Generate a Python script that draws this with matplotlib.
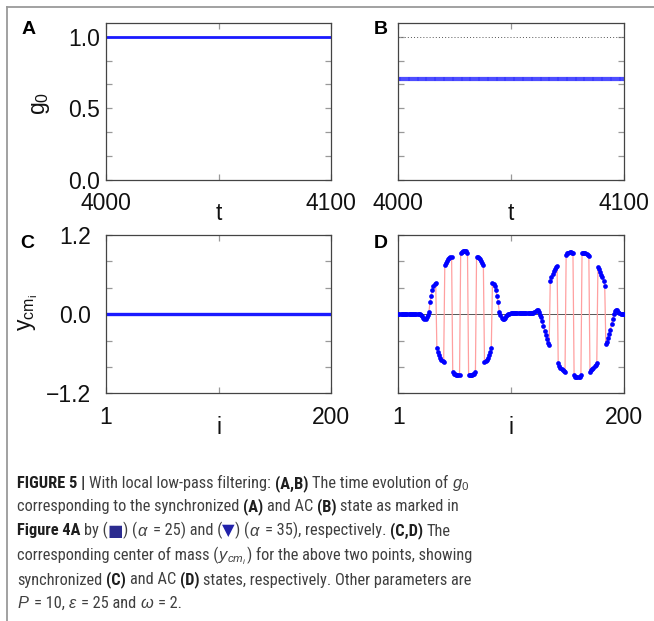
import numpy as np
import matplotlib
matplotlib.use('Agg')
import matplotlib.pyplot as plt
from matplotlib.lines import Line2D
from matplotlib.ticker import FixedLocator, NullFormatter
from matplotlib import font_manager

# ---------------- data ----------------
t_ticks = [4000, 4100]
t_mid = [4050]
t_step = 0.5
g0_sync = 1.0          # panel A level
g0_ac = 0.705          # panel B level
g0_ref = 1.0           # dotted reference in panel B
osc_ticks = [1, 200]
osc_mid = [100.5]
ycm_sync_level = 0.0
ycm_ac = [
    0, 0, 0, 0, 0, 0, 0, 0, 0, 0,
    0, 0, 0, 0, 0, 0, 0, 0, -0.002, -0.005,
    -0.01, -0.03, -0.06, -0.08, -0.08, -0.05, -0.01, 0.035, 0.18, 0.28,
    0.36, 0.42, 0.45, 0.47, -0.51, -0.57, -0.62, -0.66, -0.69, -0.71,
    -0.73, 0.74, 0.77, 0.80, 0.83, 0.85, 0.86, 0.87, -0.88, -0.90,
    -0.91, -0.92, -0.93, -0.93, -0.93, 0.92, 0.94, 0.95, 0.96, 0.96,
    0.95, 0.93, -0.93, -0.93, -0.93, -0.92, -0.91, -0.90, -0.88, 0.87,
    0.86, 0.85, 0.83, 0.80, 0.77, 0.74, -0.73, -0.71, -0.69, -0.66,
    -0.62, -0.57, -0.51, 0.47, 0.45, 0.42, 0.36, 0.28, 0.18, 0.04,
    -0.02, -0.06, -0.08, -0.075, -0.06, -0.03, -0.01, 0.0, 0.005, 0.01,
    0.01, 0.01, 0.01, 0.01, 0.01, 0.01, 0.01, 0.01, 0.01, 0.01,
    0.01, 0.01, 0.015, 0.015, 0.015, 0.015, 0.02, 0.02, 0.02, 0.025,
    0.03, 0.045, 0.065, 0.07, 0.04, -0.01, -0.05, -0.10, -0.18, -0.26,
    -0.32, -0.38, -0.43, -0.47, 0.50, 0.56, 0.61, 0.65, 0.68, 0.71,
    0.73, -0.74, -0.78, -0.81, -0.83, -0.85, -0.86, -0.87, 0.90, 0.92,
    0.93, 0.94, 0.94, 0.93, 0.92, -0.93, -0.95, -0.96, -0.96, -0.96,
    -0.95, -0.93, 0.92, 0.93, 0.93, 0.92, 0.91, 0.89, 0.88, -0.87,
    -0.85, -0.83, -0.81, -0.79, -0.77, -0.74, 0.71, 0.68, 0.64, 0.60,
    0.56, 0.50, 0.43, -0.46, -0.42, -0.36, -0.30, -0.24, -0.15, -0.07,
    0.0, 0.05, 0.07, 0.06, 0.03, 0.01, 0.0, 0.0, 0.0, 0.0,
]
ycm_ticks_major = [-1.2, 0.0, 1.2]
ycm_ticks_minor = [-0.8, -0.4, 0.4, 0.8]
g0_ticks_major = [0.0, 0.5, 1.0]
g0_ticks_minor = [1/6, 2/6, 4/6, 5/6]

# ---------------- fonts ----------------
plt.rcParams['font.family'] = ['Liberation Sans', 'DejaVu Sans']
plt.rcParams['mathtext.fontset'] = 'custom'
plt.rcParams['mathtext.rm'] = 'Liberation Sans'
plt.rcParams['mathtext.it'] = 'Liberation Sans:italic'
plt.rcParams['mathtext.bf'] = 'Liberation Sans:bold'

installed = {f.name for f in font_manager.fontManager.ttflist}
cap_font = 'Liberation Sans'
for cand in ['Liberation Sans Narrow', 'Roboto Condensed', 'Open Sans Condensed']:
    if cand in installed:
        cap_font = cand
        break

W, H = 654, 621
fig = plt.figure(figsize=(W / 100, H / 100), dpi=100)

TFS = 16.5  # tick / axis label font size


def rect(l, t, r, b):
    return [l / W, 1 - b / H, (r - l) / W, (b - t) / H]


def fx(x):
    return x / W


def fy(y):
    return 1 - y / H


def style(ax, ypad, xpad):
    for s in ax.spines.values():
        s.set_color('#444444')
        s.set_linewidth(0.9)
    ax.tick_params(which='both', direction='in', top=True, right=True,
                   color='#999999', length=4, width=0.9, labelsize=TFS,
                   labelcolor='#111111')
    ax.tick_params(axis='y', pad=ypad)
    ax.tick_params(axis='x', pad=xpad)


# frame lines
fig.add_artist(Line2D([fx(7), fx(7)], [fy(7), fy(621)], color='#9a9a9a', lw=1.3))
fig.add_artist(Line2D([fx(7), fx(654)], [fy(7), fy(7)], color='#9a9a9a', lw=1.3))

t = np.arange(t_ticks[0], t_ticks[1] + t_step / 2, t_step)

# ---- Panel A ----
axA = fig.add_axes(rect(106, 23.3, 331, 180))
axA.plot(t, np.full_like(t, g0_sync), color='#1a1aff', lw=2.0)
axA.set_xlim(t_ticks[0], t_ticks[1])
axA.set_ylim(0, 1.093)
axA.xaxis.set_major_locator(FixedLocator(t_ticks))
axA.xaxis.set_minor_locator(FixedLocator(t_mid))
axA.yaxis.set_major_locator(FixedLocator(g0_ticks_major))
axA.yaxis.set_minor_locator(FixedLocator(g0_ticks_minor))
axA.set_yticklabels(['0.0', '0.5', '1.0'])
axA.set_xticklabels([str(v) for v in t_ticks])
style(axA, 4.0, 8.8)

# ---- Panel B ----
axB = fig.add_axes(rect(398.3, 23.3, 624, 180))
axB.plot(t, np.full_like(t, g0_ref), color='#555555', lw=0.7, ls=(0, (1, 2.2)))
axB.plot(t, np.full_like(t, g0_ac), color='#2a2aff', lw=3.0)
axB.plot(t, np.full_like(t, g0_ac), ls='none', marker='|', ms=2.6, mew=0.35,
         color='#8080ff')
axB.set_xlim(t_ticks[0], t_ticks[1])
axB.set_ylim(0, 1.093)
axB.xaxis.set_major_locator(FixedLocator(t_ticks))
axB.xaxis.set_minor_locator(FixedLocator(t_mid))
axB.yaxis.set_major_locator(FixedLocator(g0_ticks_major))
axB.yaxis.set_minor_locator(FixedLocator(g0_ticks_minor))
axB.yaxis.set_major_formatter(NullFormatter())
axB.set_xticklabels([str(v) for v in t_ticks])
style(axB, 4.0, 8.8)

osc = np.arange(1, len(ycm_ac) + 1)

# ---- Panel C ----
axC = fig.add_axes(rect(106, 235, 331, 393.3))
axC.plot(osc, np.full(len(osc), ycm_sync_level), color='#1a1aff', lw=2.4)
axC.set_xlim(osc_ticks[0], osc_ticks[1])
axC.set_ylim(-1.2, 1.2)
axC.xaxis.set_major_locator(FixedLocator(osc_ticks))
axC.xaxis.set_minor_locator(FixedLocator(osc_mid))
axC.yaxis.set_major_locator(FixedLocator(ycm_ticks_major))
axC.yaxis.set_minor_locator(FixedLocator(ycm_ticks_minor))
axC.set_yticklabels(['\u22121.2', '0.0', '1.2'])
axC.set_xticklabels([str(v) for v in osc_ticks])
style(axC, 10.5, 9.5)

# ---- Panel D ----
axD = fig.add_axes(rect(398.3, 235, 624, 393.3))
axD.axhline(0, color='#555555', lw=0.7, zorder=1)
axD.plot(osc, ycm_ac, color='#ffa0a0', lw=0.9, zorder=2)
axD.plot(osc, ycm_ac, ls='none', marker='o', ms=3.4, mew=0, color='#0000ff', zorder=3)
axD.set_xlim(osc_ticks[0], osc_ticks[1])
axD.set_ylim(-1.2, 1.2)
axD.xaxis.set_major_locator(FixedLocator(osc_ticks))
axD.xaxis.set_minor_locator(FixedLocator(osc_mid))
axD.yaxis.set_major_locator(FixedLocator(ycm_ticks_major + ycm_ticks_minor))
axD.yaxis.set_major_formatter(NullFormatter())
axD.set_xticklabels([str(v) for v in osc_ticks])
style(axD, 10.5, 9.5)

# axis labels
fig.text(fx(218.5), fy(213), 't', fontsize=TFS, ha='center', va='center', color='#111111')
fig.text(fx(511.2), fy(213), 't', fontsize=TFS, ha='center', va='center', color='#111111')
fig.text(fx(218.5), fy(428), 'i', fontsize=TFS, ha='center', va='center', color='#111111')
fig.text(fx(511.2), fy(428), 'i', fontsize=TFS, ha='center', va='center', color='#111111')
fig.text(fx(41), fy(103), r'g$_0$', fontsize=TFS, rotation=90, ha='center', va='center', color='#111111')
fig.text(fx(28), fy(313), r'$\mathrm{y}_{\mathrm{cm}_{\mathrm{i}}}$', fontsize=TFS, rotation=90,
         ha='center', va='center', color='#111111')

# panel letters
for lab, x, y in [('A', 29, 30), ('B', 381, 30), ('C', 27, 243), ('D', 381, 243)]:
    fig.text(fx(x), fy(y), lab, fontsize=14, fontweight='bold', ha='center', va='center',
             color='#000000')

# ---------------- caption ----------------
renderer = fig.canvas.get_renderer()
NORM = '#404040'
BOLD = '#1e1e1e'
caption = [
    [('FIGURE 5 | ', 'b'), ('With local low-pass filtering: ', 'n'), ('(A,B)', 'b'),
     (' The time evolution of ', 'n'), (r'$g_0$', 'n')],
    [('corresponding to the synchronized ', 'n'), ('(A)', 'b'), (' and AC ', 'n'), ('(B)', 'b'),
     (' state as marked in', 'n')],
    [('Figure 4A', 'b'), (' by (', 'n'), ('\u25A0', '#2b2b8f'), (') (', 'n'), (r'$\alpha$', 'n'),
     (' = 25) and (', 'n'), ('\u25BC', '#2222aa'), (') (', 'n'), (r'$\alpha$', 'n'),
     (' = 35), respectively. ', 'n'), ('(C,D)', 'b'), (' The', 'n')],
    [('corresponding center of mass (', 'n'), (r'$y_{cm_i}$', 'n'),
     (') for the above two points, showing', 'n')],
    [('synchronized ', 'n'), ('(C)', 'b'), (' and AC ', 'n'), ('(D)', 'b'),
     (' states, respectively. Other parameters are', 'n')],
    [(r'$P$', 'n'), (' = 10, ', 'n'), (r'$\varepsilon$', 'n'), (' = 25 and ', 'n'),
     (r'$\omega$', 'n'), (' = 2.', 'n')],
]


def measure(s, fs, weight='normal'):
    tt = fig.text(0, 0, s, fontsize=fs, fontweight=weight, family=[cap_font, 'DejaVu Sans'])
    w = tt.get_window_extent(renderer).width
    tt.remove()
    return w


def draw_line(y_base, segs, fs, draw=True):
    x = 17.0
    sp = measure('x x', fs) - measure('xx', fs)
    for txt, kind in segs:
        lead = len(txt) - len(txt.lstrip(' '))
        trail = len(txt) - len(txt.rstrip(' '))
        core = txt.strip(' ')
        x += lead * sp
        if core:
            weight = 'bold' if kind == 'b' else 'normal'
            if kind == 'b':
                col = BOLD
            elif kind == 'n':
                col = NORM
            else:
                col = kind
            tt = fig.text(fx(x), fy(y_base), core, fontsize=fs, fontweight=weight,
                          color=col, ha='left', va='baseline',
                          family=[cap_font, 'DejaVu Sans'])
            bb = tt.get_window_extent(renderer)
            x = bb.x1
            if not draw:
                tt.remove()
        x += trail * sp
    return x


# fit font size so that first line spans to ~470 px
fs = 11.0
end = draw_line(0, caption[0], fs, draw=False)
fs = fs * (470 - 17) / (end - 17)

baselines = [488, 511, 535.5, 560, 584.5, 608]
for yb, segs in zip(baselines, caption):
    draw_line(yb, segs, fs)

fig.savefig('out.png', dpi=100)
